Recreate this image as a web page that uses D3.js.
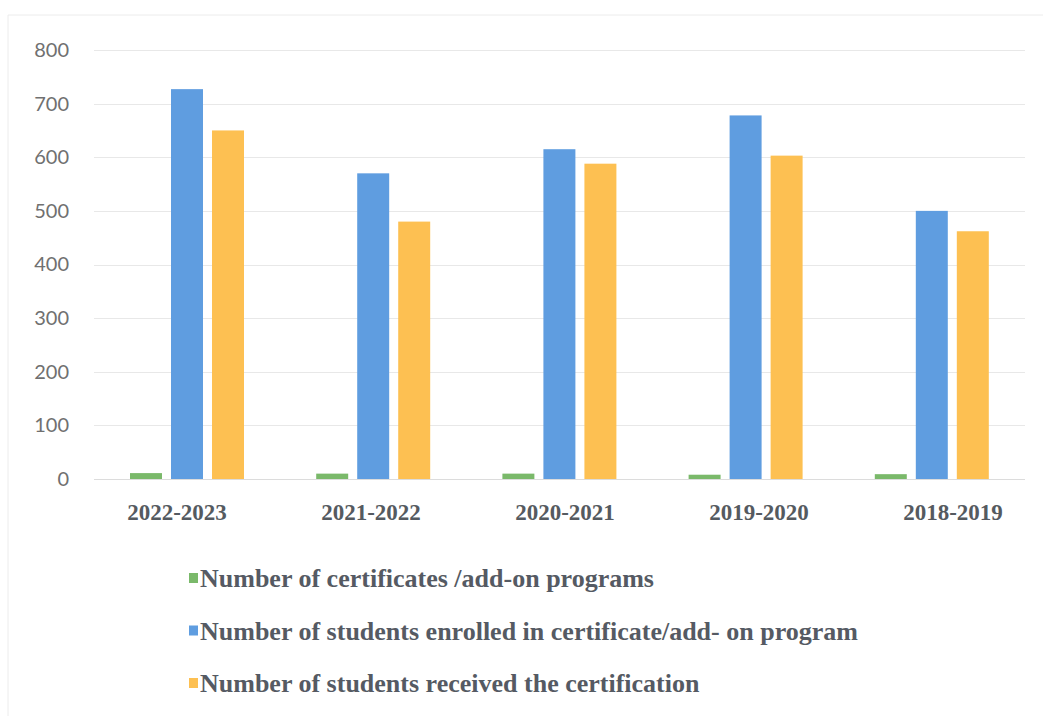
<!DOCTYPE html>
<html>
<head>
<meta charset="utf-8">
<script src="https://cdn.jsdelivr.net/npm/d3@7"></script>
<style>
  html, body { margin: 0; padding: 0; background: #fff; }
  svg { display: block; }
</style>
</head>
<body>
<svg id="chart" width="1043" height="716"></svg>
<script>
var years = ["2022-2023", "2021-2022", "2020-2021", "2019-2020", "2018-2019"];
var seriesNames = [
    "Number of certificates /add-on programs",
    "Number of students enrolled in certificate/add- on program",
    "Number of students received the certification"
];
var certificates = [11, 10, 10, 8, 9];
var enrolled = [727, 570, 615, 678, 500];
var received = [650, 480, 588, 603, 462];
var yTicks = [0, 100, 200, 300, 400, 500, 600, 700, 800];
var colors = ["#7ab96a", "#5f9de0", "#fdc052"];

var svg = d3.select("#chart");
var values = [certificates, enrolled, received];
var margin = {top: 50, left: 94, right: 1025, bottom: 479};

// faint page frame from the scan
svg.append("path")
    .attr("d", "M8,716 L8,15 L1043,15")
    .attr("fill", "none")
    .attr("stroke", "#ececec")
    .attr("stroke-width", 1);

var y = d3.scaleLinear().domain([0, 800]).range([margin.bottom, margin.top]);
var x0 = d3.scaleBand().domain(years).range([margin.left, margin.right]);
var x1 = d3.scaleBand().domain(d3.range(seriesNames.length))
    .range([36, 150]).paddingInner(0.22);
// the category labels sit slightly wider than the bars in the scan
var xLabel = d3.scaleBand().domain(years).range([80, 1050]);

// grid
svg.append("g").attr("class", "grid")
    .selectAll("line").data(yTicks).enter().append("line")
    .attr("x1", margin.left)
    .attr("x2", margin.right)
    .attr("y1", function (d) { return Math.round(y(d)) + 0.5; })
    .attr("y2", function (d) { return Math.round(y(d)) + 0.5; })
    .attr("stroke", function (d) { return d === 0 ? "#dcdcdc" : "#e8e8e8"; })
    .attr("stroke-width", 1);

// y axis labels
var yAxis = d3.axisLeft(y).tickValues(yTicks).tickSize(0).tickPadding(0);
var yg = svg.append("g").attr("transform", "translate(69,0)").call(yAxis);
yg.select(".domain").remove();
yg.selectAll("text")
    .attr("fill", "#707070")
    .style("font-family", "Lato, 'Open Sans', sans-serif")
    .style("font-size", "20px");

// bars
var groups = svg.append("g").attr("class", "bars")
    .selectAll("g").data(years).enter().append("g")
    .attr("transform", function (d) { return "translate(" + x0(d) + ",0)"; });
groups.selectAll("rect")
    .data(function (d, i) { return values.map(function (s, k) { return {k: k, v: s[i]}; }); })
    .enter().append("rect")
    .attr("x", function (d) { return x1(d.k); })
    .attr("width", x1.bandwidth())
    .attr("y", function (d) { return y(d.v); })
    .attr("height", function (d) { return y(0) - y(d.v); })
    .attr("fill", function (d) { return colors[d.k]; });

// x axis labels
var xAxis = d3.axisBottom(xLabel).tickSize(0).tickPadding(0);
var xg = svg.append("g").attr("transform", "translate(0,504)").call(xAxis);
xg.select(".domain").remove();
xg.selectAll("text")
    .attr("fill", "#555a60")
    .attr("dy", "0.71em")
    .style("font-family", "'Liberation Serif', 'Times New Roman', serif")
    .style("font-weight", "bold")
    .style("font-size", "23px");

// legend
var legend = svg.append("g").attr("class", "legend")
    .selectAll("g").data(seriesNames).enter().append("g")
    .attr("transform", function (d, i) { return "translate(189," + (578 + i * 52.5) + ")"; });
legend.append("rect")
    .attr("x", 0).attr("y", -5)
    .attr("width", 9).attr("height", 10)
    .attr("fill", function (d, i) { return colors[i]; });
legend.append("text")
    .attr("x", 11)
    .attr("dy", "0.35em")
    .attr("fill", "#555a63")
    .style("font-family", "'Liberation Serif', 'Times New Roman', serif")
    .style("font-weight", "bold")
    .style("font-size", "26px")
    .text(function (d) { return d; });
</script>
</body>
</html>
